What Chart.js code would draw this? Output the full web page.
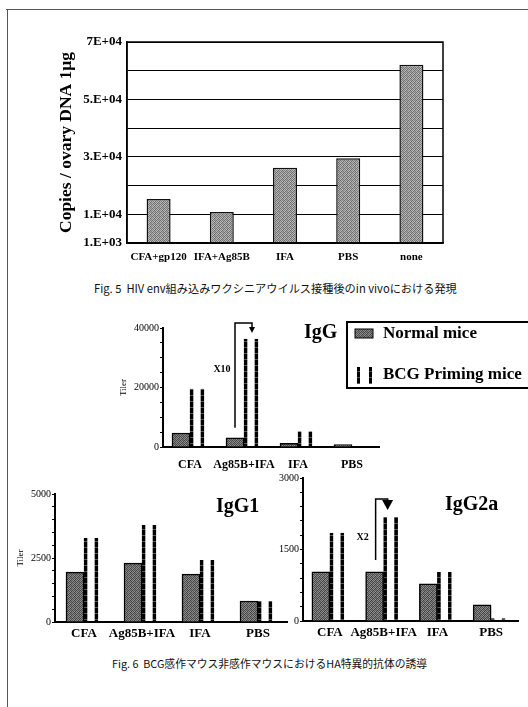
<!DOCTYPE html>
<html><head><meta charset="utf-8">
<script src="https://cdn.jsdelivr.net/npm/chart.js@4.4.1/dist/chart.umd.min.js"></script>
<style>
html,body{margin:0;padding:0;background:#fff;}
body{width:528px;height:707px;position:relative;overflow:hidden;}
canvas{position:absolute;}
.frameTop{position:absolute;left:6px;top:9px;width:522px;height:0;border-top:1px solid #555;}
.frameLeft{position:absolute;left:7px;top:9px;width:0;height:698px;border-left:1px solid #555;}
.cap{position:absolute;font-family:"Noto Sans CJK JP","Noto Sans CJK SC",sans-serif;line-height:14px;color:#111;white-space:nowrap;}
</style></head>
<body>
<div class="frameTop"></div><div class="frameLeft"></div>
<canvas id="c5" width="528" height="280" style="left:0;top:0"></canvas>
<div class="cap" style="left:94px;top:281px;font-size:11.2px">Fig. 5&nbsp;&nbsp;HIV env組み込みワクシニアウイルス接種後のin vivoにおける発現</div>
<canvas id="cG" width="428" height="175" style="left:100px;top:300px"></canvas>
<canvas id="cG1" width="295" height="180" style="left:0;top:470px"></canvas>
<canvas id="cG2a" width="263" height="180" style="left:265px;top:470px"></canvas>
<div class="cap" style="left:112px;top:656px;font-size:10.8px">Fig. 6&nbsp;&nbsp;BCG感作マウス非感作マウスにおけるHA特異的抗体の誘導</div>
<script>
// ---------- data ----------
const fig5Categories = ["CFA+gp120", "IFA+Ag85B", "IFA", "PBS", "none"];
const fig5Copies = [15300, 10800, 26200, 29500, 62100];
const fig5TickValues = [0, 10000, 30000, 50000, 70000];
const fig5TickLabels = ["1.E+03", "1.E+04", "3.E+04", "5.E+04", "7E+04"];

const fig6Categories = ["CFA", "Ag85B+IFA", "IFA", "PBS"];
const seriesNames = ["Normal mice", "BCG Priming mice"];
const iggNormal = [4700, 3100, 1200, 800];
const iggBCG = [19600, 36400, 5300, 330];
const igg1Normal = [1950, 2300, 1870, 820];
const igg1BCG = [3280, 3790, 2420, 820];
const igg2aNormal = [1030, 1030, 780, 340];
const igg2aBCG = [1850, 2180, 1030, 60];
const iggTicks = [0, 20000, 40000];
const igg1Ticks = [0, 2500, 5000];
const igg2aTicks = [0, 1500, 3000];

// ---------- styles ----------
const SERIF = '"Liberation Serif","DejaVu Serif",serif';
function grayPattern(levels, size) {
  const c = document.createElement('canvas');
  c.width = size; c.height = size;
  const g = c.getContext('2d');
  for (let i = 0; i < size * size; i++) {
    const v = levels[i % levels.length];
    g.fillStyle = 'rgb(' + v + ',' + v + ',' + v + ')';
    g.fillRect(i % size, Math.floor(i / size), 1, 1);
  }
  return g.createPattern(c, 'repeat');
}
const texture = [85,153,102,136, 153,96,170,85, 112,160,80,144, 160,88,136,102];
const fig6Fill = grayPattern(texture.map(v => v - 18), 4);
const fig5Fill = grayPattern(texture.map(v => Math.min(235, v + 25)), 4);
const dashCanvas = document.createElement('canvas');
dashCanvas.width = 3; dashCanvas.height = 6;
(function(){ const g = dashCanvas.getContext('2d'); g.fillStyle='#000'; g.fillRect(0,0,3,6); g.fillStyle='#555'; g.fillRect(0,5,3,1); })();
const dashPattern = dashCanvas.getContext('2d').createPattern(dashCanvas, 'repeat');

Chart.defaults.animation = false;
Chart.defaults.color = '#000';

// ---------- Fig 5 ----------
new Chart(document.getElementById('c5'), {
  type: 'bar',
  data: { labels: fig5Categories, datasets: [{ data: fig5Copies, backgroundColor: fig5Fill, borderColor: '#111', borderWidth: 1.5, categoryPercentage: 1, barPercentage: 0.38 }] },
  options: {
    responsive: false, devicePixelRatio: 1,
    layout: { padding: { left: 52, top: 42, right: 85, bottom: 7 } },
    plugins: { legend: { display: false }, tooltip: { enabled: false } },
    scales: {
      x: {
        grid: { display: false, drawTicks: false }, border: { color: '#000', width: 1.5 },
        ticks: { font: { family: SERIF, size: 11, weight: 'bold' }, padding: 8, maxRotation: 0, autoSkip: false },
        afterFit: s => { s.height = 30; }
      },
      y: {
        min: 0, max: 70000,
        grid: { color: '#000', lineWidth: 1, drawTicks: false },
        border: { color: '#000', width: 1.5 },
        ticks: { stepSize: 10000, autoSkip: false, padding: 5, font: { family: SERIF, size: 13, weight: 'bold' },
          callback: v => { const i = fig5TickValues.indexOf(v); return i >= 0 ? fig5TickLabels[i] : ''; } },
        title: { display: true, text: 'Copies / ovary DNA 1μg', font: { family: SERIF, size: 17.5, weight: 'bold' }, padding: { top: 4, bottom: 4 } },
        afterFit: s => { s.width = 75; }
      }
    }
  },
  plugins: [{ id: 'box', afterDraw(chart) {
    const a = chart.chartArea, ctx = chart.ctx;
    ctx.save(); ctx.strokeStyle = '#000'; ctx.lineWidth = 1.5;
    ctx.strokeRect(a.left, a.top, a.right - a.left, a.bottom - a.top); ctx.restore();
  } }]
});

// ---------- Fig 6 helpers ----------
function fig6Datasets(normal, bcg) {
  return [
    { label: seriesNames[0], data: normal, backgroundColor: fig6Fill, borderColor: '#000', borderWidth: 1.5, barThickness: 18 },
    { label: seriesNames[1], data: bcg, backgroundColor: 'rgba(0,0,0,0)', borderColor: dashPattern,
      borderWidth: { left: 3, right: 3, top: 0, bottom: 0 }, borderSkipped: false, barThickness: 14 }
  ];
}
function fig6Options(cfg) {
  return {
    responsive: false, devicePixelRatio: 1,
    layout: { padding: cfg.padding },
    plugins: { legend: { display: false }, tooltip: { enabled: false } },
    scales: {
      x: {
        grid: { display: false, drawTicks: false }, border: { color: '#000', width: 2 },
        ticks: { font: { family: SERIF, size: cfg.xFont, weight: 'bold' }, padding: cfg.xPad, maxRotation: 0, autoSkip: false },
        afterFit: s => { s.height = cfg.xHeight; }
      },
      y: {
        min: 0, max: cfg.max,
        grid: { display: true, drawOnChartArea: false, drawTicks: true, tickLength: 3, color: '#000', lineWidth: 1 },
        border: { color: '#000', width: 2 },
        ticks: { stepSize: cfg.step, autoSkip: false, padding: 1, font: { family: SERIF, size: 10 },
          callback: v => cfg.ticks.includes(v) ? String(v) : '' },
        title: { display: cfg.title, text: 'Tiler', font: { family: SERIF, size: 9 }, padding: { top: 4, bottom: 4 } },
        afterFit: s => { s.width = cfg.yWidth; }
      }
    }
  };
}
function drawText(ctx, text, x, y, size, align) {
  ctx.font = 'bold ' + size + 'px ' + SERIF;
  ctx.fillStyle = '#000'; ctx.textAlign = align || 'left'; ctx.textBaseline = 'middle';
  ctx.fillText(text, x, y);
}
function bracket(ctx, x0, yLow, yTop, x1, yTip, big) {
  ctx.save(); ctx.strokeStyle = '#000'; ctx.fillStyle = '#000'; ctx.lineWidth = 1.5;
  ctx.beginPath(); ctx.moveTo(x0, yLow); ctx.lineTo(x0, yTop); ctx.lineTo(x1, yTop); ctx.lineTo(x1, yTip - (big ? 9 : 5)); ctx.stroke();
  const w = big ? 5.5 : 3;
  ctx.beginPath(); ctx.moveTo(x1 - w, yTip - (big ? 10 : 6)); ctx.lineTo(x1 + w, yTip - (big ? 10 : 6)); ctx.lineTo(x1, yTip); ctx.closePath(); ctx.fill();
  ctx.restore();
}

// ---------- IgG ----------
new Chart(document.getElementById('cG'), {
  type: 'bar',
  data: { labels: fig6Categories, datasets: fig6Datasets(iggNormal, iggBCG) },
  options: fig6Options({ padding: { left: 14, top: 28, right: 149, bottom: 0 }, xFont: 12, xPad: 11, xHeight: 28, max: 40000, step: 5000, ticks: iggTicks, title: true, yWidth: 49 }),
  plugins: [{ id: 'igg', afterDraw(chart) {
    const ctx = chart.ctx, x = chart.scales.x, y = chart.scales.y, a = chart.chartArea;
    const cx = x.getPixelForValue(1);
    bracket(ctx, cx - 9, y.getPixelForValue(6500), y.getPixelForValue(40000) - 5, cx + 8, y.getPixelForValue(38300), false);
    drawText(ctx, 'X10', cx - 22, y.getPixelForValue(26000), 10, 'center');
    drawText(ctx, 'IgG', a.left + 141, a.top + 5, 20);
    // legend box
    const ds = chart.data.datasets;
    ctx.save(); ctx.strokeStyle = '#000'; ctx.lineWidth = 2;
    const lx = a.right - 32, ly = a.top - 6;
    ctx.strokeRect(lx, ly, 190, 66);
    ctx.fillStyle = ds[0].backgroundColor; ctx.fillRect(lx + 8, ly + 7, 18, 9);
    ctx.strokeStyle = '#000'; ctx.lineWidth = 1; ctx.strokeRect(lx + 8, ly + 7, 18, 9);
    ctx.fillStyle = dashPattern; ctx.fillRect(lx + 10, ly + 45, 3, 17); ctx.fillRect(lx + 22, ly + 45, 3, 17);
    ctx.restore();
    drawText(ctx, ds[0].label, lx + 36, ly + 12, 17);
    drawText(ctx, ds[1].label, lx + 36, ly + 53, 17);
  } }]
});

// ---------- IgG1 ----------
new Chart(document.getElementById('cG1'), {
  type: 'bar',
  data: { labels: fig6Categories, datasets: fig6Datasets(igg1Normal, igg1BCG) },
  options: fig6Options({ padding: { left: 11, top: 24, right: 8, bottom: 2 }, xFont: 13, xPad: 4, xHeight: 26, max: 5000, step: 500, ticks: igg1Ticks, title: true, yWidth: 44 }),
  plugins: [{ id: 'igg1', afterDraw(chart) {
    const a = chart.chartArea;
    drawText(chart.ctx, 'IgG1', a.left + 161, a.top + 13, 20);
  } }]
});

// ---------- IgG2a ----------
new Chart(document.getElementById('cG2a'), {
  type: 'bar',
  data: { labels: fig6Categories, datasets: fig6Datasets(igg2aNormal, igg2aBCG) },
  options: fig6Options({ padding: { left: 0, top: 8, right: 10, bottom: 3 }, xFont: 13, xPad: 4, xHeight: 26, max: 3000, step: 300, ticks: igg2aTicks, title: false, yWidth: 38 }),
  plugins: [{ id: 'igg2a', afterDraw(chart) {
    const ctx = chart.ctx, x = chart.scales.x, y = chart.scales.y, a = chart.chartArea;
    const cx = x.getPixelForValue(1);
    bracket(ctx, cx - 8, y.getPixelForValue(1280), y.getPixelForValue(2560), cx + 4, y.getPixelForValue(2330), true);
    drawText(ctx, 'X2', cx - 21, y.getPixelForValue(1760), 10, 'center');
    drawText(ctx, 'IgG2a', a.left + 142, a.top + 27, 20);
  } }]
});
</script>
</body></html>
